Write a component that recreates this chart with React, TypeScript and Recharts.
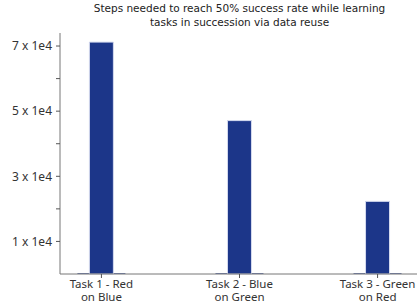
import { Bar, BarChart, XAxis, YAxis } from "recharts";

const taskIndex = [0, 1, 2];
const taskLineOne = ["Task 1 - Red", "Task 2 - Blue", "Task 3 - Green"];
const taskLineTwo = ["on Blue", "on Green", "on Red"];
const steps = [71200, 47100, 22300];
const floor = [260, 260, 260];
const yTicks = [10000, 20000, 30000, 40000, 50000, 60000, 70000];

const data = taskIndex.map((x, i) => ({ x, steps: steps[i], floor: floor[i] }));

const FONT = "'Noto Sans', 'Open Sans', sans-serif";

function TaskTick(props: any) {
  const i = props.payload.value as number;
  return (
    <g>
      <text x={props.x} y={props.y} textAnchor="middle" fontSize={11.5} fill="#333" fontFamily={FONT}>
        <tspan x={props.x} dy={8}>{taskLineOne[i]}</tspan>
        <tspan x={props.x} dy={13}>{taskLineTwo[i]}</tspan>
      </text>
    </g>
  );
}

export default function App() {
  return (
    <div style={{ position: "absolute", left: 0, top: 0, width: 417, height: 304, overflow: "hidden", background: "#fff" }}>
      <div
        style={{
          position: "absolute",
          left: 60,
          width: 359,
          top: 1,
          textAlign: "center",
          fontFamily: "'DejaVu Sans', sans-serif",
          fontSize: 10.5,
          lineHeight: "14px",
          color: "#222"
        }}
      >
        Steps needed to reach 50% success rate while learning
        <br />
        tasks in succession via data reuse
      </div>
      <div style={{ position: "absolute", left: 0, top: 0 }}>
        <BarChart width={422} height={304} data={data} margin={{ top: 33, right: 3, bottom: 0, left: 0 }}>
          <XAxis
            dataKey="x"
            type="number"
            domain={[-0.3, 2.3]}
            ticks={taskIndex}
            interval={0}
            height={30}
            tickSize={4}
            tickLine={{ stroke: "#555" }}
            axisLine={{ stroke: "#777" }}
            tick={<TaskTick />}
          />
          <XAxis
            xAxisId="top"
            orientation="top"
            dataKey="x"
            type="number"
            domain={[-0.3, 2.3]}
            height={0}
            tick={false}
            tickLine={false}
            axisLine={{ stroke: "#777" }}
          />
          <YAxis
            type="number"
            domain={[0, 74000]}
            ticks={yTicks}
            interval={0}
            width={60}
            tickSize={4}
            tickMargin={4}
            tickLine={{ stroke: "#555" }}
            axisLine={{ stroke: "#777" }}
            tick={{ fontSize: 12, fill: "#333", fontFamily: FONT }}
            tickFormatter={(v: number) => ((v / 10000) % 2 === 1 ? `${v / 10000} x 1e4` : "")}
          />
          <Bar dataKey="floor" xAxisId="top" barSize={48} fill="#3a4f8f" isAnimationActive={false} />
          <Bar dataKey="steps" barSize={24} fill="#1c3689" stroke="#d6dbef" strokeWidth={1} isAnimationActive={false} />
        </BarChart>
      </div>
    </div>
  );
}
